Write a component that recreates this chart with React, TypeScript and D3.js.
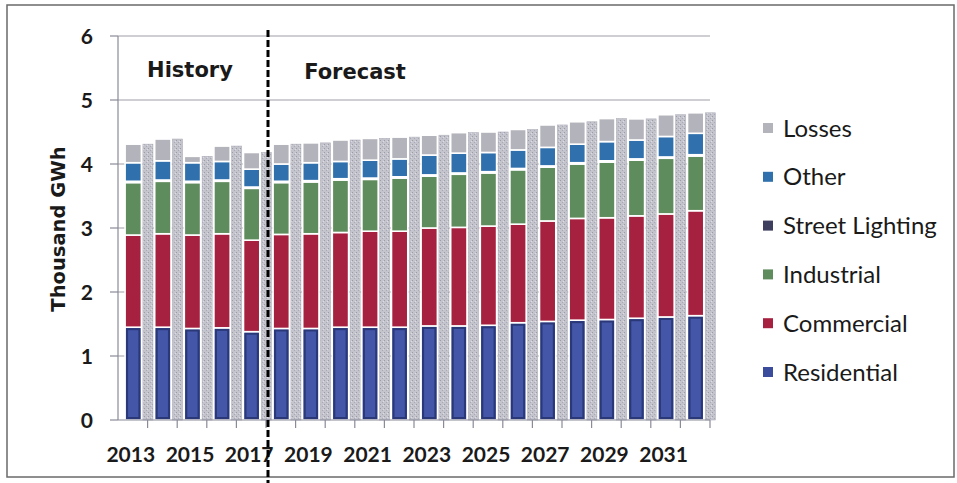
import React from "react";
import * as d3 from "d3";

const years = ["2013","2014","2015","2016","2017","2018","2019","2020","2021","2022","2023","2024","2025","2026","2027","2028","2029","2030","2031","2032"];
const residential = [1.45,1.45,1.43,1.44,1.38,1.43,1.43,1.45,1.45,1.45,1.47,1.47,1.48,1.52,1.54,1.56,1.57,1.59,1.61,1.63];
const commercial = [1.44,1.46,1.46,1.47,1.43,1.47,1.48,1.48,1.50,1.50,1.53,1.54,1.55,1.54,1.57,1.59,1.59,1.60,1.61,1.64];
const industrial = [0.82,0.82,0.82,0.82,0.81,0.81,0.81,0.82,0.81,0.83,0.81,0.83,0.83,0.85,0.84,0.85,0.87,0.87,0.87,0.855];
const streetLighting = [0.02,0.02,0.02,0.02,0.02,0.02,0.02,0.02,0.02,0.02,0.02,0.02,0.02,0.02,0.02,0.02,0.02,0.02,0.02,0.02];
const other = [0.29,0.30,0.29,0.29,0.28,0.27,0.28,0.27,0.28,0.28,0.31,0.31,0.30,0.29,0.29,0.29,0.30,0.295,0.32,0.335];
const losses = [0.29,0.34,0.10,0.24,0.26,0.31,0.31,0.335,0.34,0.34,0.31,0.32,0.32,0.32,0.35,0.35,0.36,0.33,0.34,0.32];
const yTicks = [0,1,2,3,4,5,6];
const xLabels = ["2013","2015","2017","2019","2021","2023","2025","2027","2029","2031"];
const seriesNames = ["Residential","Commercial","Industrial","Street Lighting","Other","Losses"];
const seriesColors = ["#3b4c9c","#a6213f","#5f8c5c","#3e3e5e","#2f70ad","#b3b3bb"];
const legendOrder = ["Losses","Other","Street Lighting","Industrial","Commercial","Residential"];

export default function App() {
  const W = 957, H = 483;
  const x0 = 118, x1 = 710, yBottom = 420, yTop = 36;
  const x = d3.scaleBand<string>().domain(years).range([x0, x1]).paddingInner(0).paddingOuter(0);
  const y = d3.scaleLinear().domain([0, 6]).range([yBottom, yTop]);
  const bw = x.bandwidth();
  const rows = years.map((yr, i) => ({
    year: yr,
    Residential: residential[i],
    Commercial: commercial[i],
    Industrial: industrial[i],
    "Street Lighting": streetLighting[i],
    Other: other[i],
    Losses: losses[i],
  }));
  const stack = d3.stack<any>().keys(seriesNames);
  const layers = stack(rows);
  const colorOf = (k: string) => seriesColors[seriesNames.indexOf(k)];
  const font = "Lato, 'Open Sans', sans-serif";
  const wide = "'DejaVu Sans', Verdana, sans-serif";
  const dashX = (x("2018") as number) + 2;
  const totals = rows.map((r) => seriesNames.reduce((s, k) => s + (r as any)[k], 0));

  return (
    <svg width={W} height={H} style={{ position: "absolute", left: 0, top: 0, background: "#fff" }} fontFamily={font}>
      <defs>
        <pattern id="speck" width="4" height="4" patternUnits="userSpaceOnUse">
          <rect width="4" height="4" fill="#c4c4cc" />
          <rect x="0" y="0" width="1" height="1" fill="#9a9aa8" />
          <rect x="2" y="2" width="1" height="1" fill="#a8a8b6" />
          <rect x="3" y="1" width="1" height="1" fill="#dcdce2" />
        </pattern>
      </defs>
      <rect x={7} y={5} width={947} height={472} fill="#fff" stroke="#6a6a6a" strokeWidth={1.5} />
      {yTicks.filter((t) => t > 0).map((t) => (
        <line key={"g" + t} x1={x0} x2={x1} y1={y(t)} y2={y(t)} stroke="#a0a0a8" strokeWidth={1.2} />
      ))}
      <line x1={x0} x2={x0} y1={yTop} y2={yBottom} stroke="#8a8a98" strokeWidth={1.2} />
      {yTicks.map((t) => (
        <g key={"yt" + t}>
          <line x1={x0 - 8} x2={x0} y1={y(t)} y2={y(t)} stroke="#8a8a98" strokeWidth={1.2} />
          <text x={93} y={y(t)} dy="0.36em" textAnchor="end" fontSize={21} fontWeight={700} fill="#1a1a1a">{t}</text>
        </g>
      ))}
      {rows.map((r, i) => (
        <rect key={"gc" + i} x={(x(r.year) as number) + bw * 0.84} y={y(totals[i])} width={bw * 0.34} height={yBottom - y(totals[i])} fill="url(#speck)" stroke="#b0b0bc" strokeWidth={0.6} />
      ))}
      {layers.map((layer) => (
        <g key={layer.key}>
          {layer.map((d, i) => {
            const bx = (x(years[i]) as number) + bw * 0.24;
            const by = y(d[1]);
            const bh = y(d[0]) - y(d[1]);
            const c = colorOf(layer.key);
            return (
              <g key={i}>
                <rect x={bx} y={by} width={bw * 0.55} height={bh} fill={c} stroke="#fff" strokeWidth={1.6} />
                {layer.key === "Residential" && (
                  <rect x={bx + 2} y={by + 2} width={bw * 0.55 - 4} height={Math.max(0, bh - 4)} fill="#4356a8" stroke="#2a3878" strokeWidth={2} />
                )}
              </g>
            );
          })}
        </g>
      ))}
      <line x1={x0} x2={x1} y1={yBottom} y2={yBottom} stroke="#8a8a98" strokeWidth={1.2} />
      {years.map((yr) => (
        <line key={"xt" + yr} x1={(x(yr) as number) + bw} x2={(x(yr) as number) + bw} y1={yBottom} y2={yBottom + 8} stroke="#8a8a98" strokeWidth={1.2} />
      ))}
      {xLabels.map((l) => (
        <text key={"xl" + l} x={(x(l) as number) + bw / 2 - 2} y={462} textAnchor="middle" fontSize={21} fontWeight={700} fill="#1a1a1a">{l}</text>
      ))}
      <line x1={dashX} x2={dashX} y1={30} y2={483} stroke="#000" strokeWidth={3} strokeDasharray="7,3" />
      <text x={190} y={77} textAnchor="middle" fontFamily={wide} fontSize={21} fontWeight={700} fill="#1a1a1a">History</text>
      <text x={355} y={79} textAnchor="middle" fontFamily={wide} fontSize={21} fontWeight={700} fill="#1a1a1a">Forecast</text>
      <text transform={`translate(65,229) rotate(-90)`} textAnchor="middle" fontFamily={wide} fontSize={19.5} fontWeight={700} fill="#1a1a1a">Thousand GWh</text>
      {legendOrder.map((name, i) => {
        const ly = 128 + i * 48.8;
        return (
          <g key={"lg" + name}>
            <rect x={763} y={ly - 5} width={10} height={10} fill={colorOf(name)} />
            <text x={783} y={ly} dy="0.36em" fontSize={24} fill="#1a1a1a">{name}</text>
          </g>
        );
      })}
    </svg>
  );
}
